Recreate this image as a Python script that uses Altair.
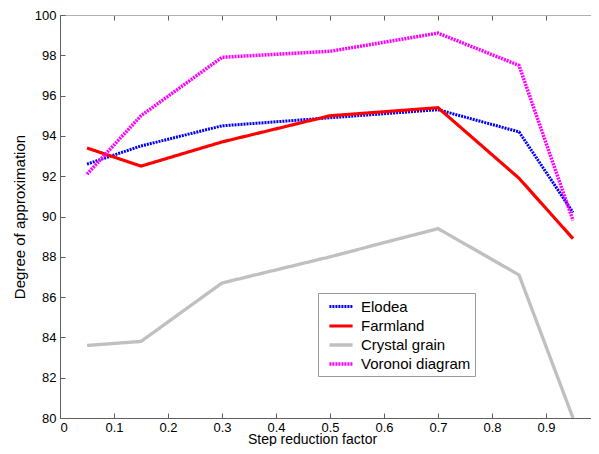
import altair as alt
import pandas as pd

# ---- data ----
x_vals = [0.05, 0.15, 0.3, 0.5, 0.7, 0.85, 0.95]
elodea = [92.6, 93.5, 94.5, 94.9, 95.3, 94.2, 90.2]
farmland = [93.4, 92.5, 93.7, 95.0, 95.4, 91.9, 88.9]
crystal = [83.6, 83.8, 86.7, 88.0, 89.4, 87.1, 80.0]
voronoi = [92.1, 95.0, 97.9, 98.2, 99.1, 97.5, 89.8]
series_names = ["Elodea", "Farmland", "Crystal grain", "Voronoi diagram"]
x_ticks = [0, 0.1, 0.2, 0.3, 0.4, 0.5, 0.6, 0.7, 0.8, 0.9]
y_ticks = [80, 82, 84, 86, 88, 90, 92, 94, 96, 98, 100]
x_max = 0.9833  # right edge of the visible part of the axes (the 1.0 edge is cropped)

# ---- styles ----
series_colors = ["#0000ff", "#ff0000", "#c0c0c0", "#ff00ff"]
series_dash = [[2, 1], [1, 0], [1, 0], [2, 1]]
series_width = [3, 3.5, 3.5, 3]

rows = []
for name, vals in zip(series_names, [elodea, farmland, crystal, voronoi]):
    for x, y in zip(x_vals, vals):
        rows.append({"series": name, "x": x, "y": y})
df = pd.DataFrame(rows)

W, H = 531, 403
FONT = "Liberation Sans"
AX = "#606060"
FRAME = "#b0b0b0"

xs = alt.Scale(domain=[0, x_max], nice=False, zero=False)
ys = alt.Scale(domain=[80, 100], nice=False, zero=False)

lines = alt.Chart(df).mark_line(clip=True).encode(
    x=alt.X("x:Q", scale=xs, axis=alt.Axis(
        orient="bottom", values=x_ticks, format="~g", grid=False,
        domain=True, domainColor=AX, ticks=False, tickSize=0,
        labelPadding=3, labelFontSize=13, labelColor="#000",
        title="Step reduction factor", titleFontSize=14, titleFontWeight="normal",
        titleColor="#000", titleX=252, titleY=25, titleAlign="center",
        titleBaseline="alphabetic")),
    y=alt.Y("y:Q", scale=ys, axis=alt.Axis(
        orient="left", values=y_ticks, grid=False,
        domain=True, domainColor=AX, ticks=False, tickSize=0,
        labelPadding=4, labelFontSize=13, labelColor="#000",
        title="Degree of approximation", titleFontSize=15, titleFontWeight="normal",
        titleColor="#000", titleAngle=270, titleX=-36, titleY=201.5,
        titleAlign="center", titleBaseline="alphabetic")),
    color=alt.Color("series:N", sort=series_names,
                    scale=alt.Scale(domain=series_names, range=series_colors),
                    legend=alt.Legend(
                        title=None, orient="none", legendX=258, legendY=278,
                        symbolType="M-1.45,0L1.45,0", symbolSize=256,
                        symbolStrokeWidth=3, symbolOffset=9, labelOffset=10,
                        labelFontSize=15, labelFont=FONT, labelColor="#000",
                        rowPadding=1, padding=4, strokeColor="#999",
                        fillColor="white")),
    strokeDash=alt.StrokeDash("series:N", sort=series_names,
                              scale=alt.Scale(domain=series_names, range=series_dash)),
    strokeWidth=alt.StrokeWidth("series:N", sort=series_names,
                                scale=alt.Scale(domain=series_names, range=series_width),
                                legend=None),
)


def tick_layer(xorient, yorient, frame):
    return alt.Chart(df).mark_point(opacity=0).encode(
        x=alt.X("x:Q", scale=xs, axis=alt.Axis(
            orient=xorient, offset=-H, values=x_ticks, labels=False,
            domain=frame, domainColor=FRAME, ticks=True, tickSize=5, tickColor=AX,
            title=None, grid=False)),
        y=alt.Y("y:Q", scale=ys, axis=alt.Axis(
            orient=yorient, offset=-W, values=y_ticks, labels=False,
            domain=False, ticks=yorient == "right", tickSize=5, tickColor=AX,
            title=None, grid=False)),
    )


chart = alt.layer(
    tick_layer("top", "right", False),
    tick_layer("bottom", "left", True),
    lines,
).resolve_axis(x="independent", y="independent").properties(
    width=W, height=H,
    padding={"left": 52, "top": 7, "right": 0, "bottom": 28},
    autosize=alt.AutoSizeParams(type="none"),
    background="white",
).configure_view(
    stroke="transparent"
).configure_axis(
    labelFont=FONT, titleFont=FONT
).configure_legend(
    labelFont=FONT
)

chart.save("out.html", embed_options={"renderer": "svg", "actions": False})
